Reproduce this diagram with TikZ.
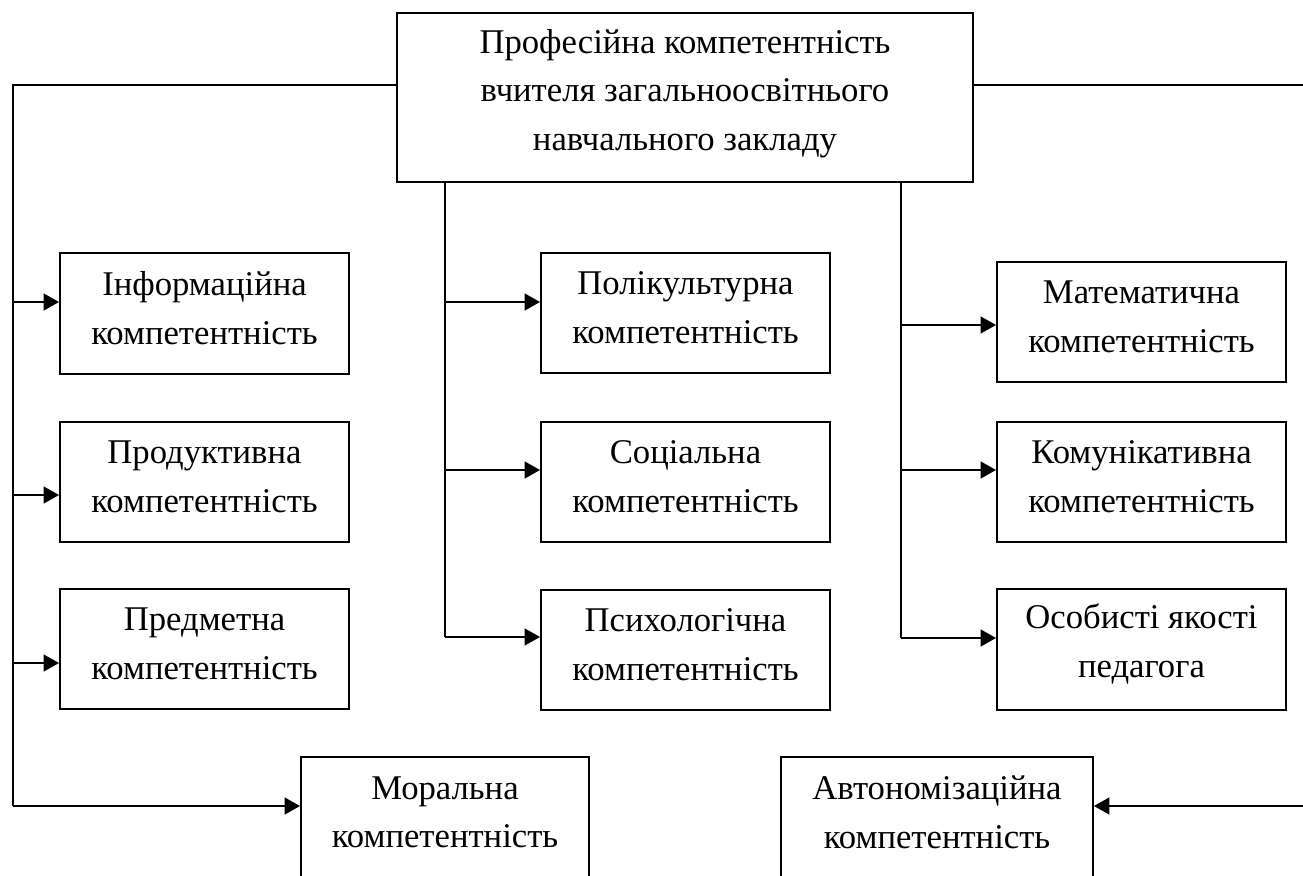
\documentclass[tikz,border=0pt]{standalone}
\usepackage{fontspec}
\setmainfont{Liberation Serif}
\usetikzlibrary{arrows.meta}
\begin{document}
\begin{tikzpicture}[x=0.75pt,y=-0.75pt,
  box/.style={draw=black,line width=1.4pt,rectangle,inner sep=0pt,minimum height=90.5pt,minimum width=216.75pt},
  lbl/.style={align=center,inner sep=0pt,font=\fontsize{26}{36.5}\selectfont},
  ln/.style={line width=1.5pt},
  arr/.style={line width=1.5pt,-{Triangle[length=11.5pt,width=12.5pt]}}]
\useasboundingbox (0,0) rectangle (1303,875);
\clip (0,0) rectangle (1303,875);
% top box
\node[box,minimum width=432pt,minimum height=126.75pt] (top) at (685,97.5) {};
\node[lbl] (topl) at ([yshift=3pt]top.center) {Професійна компетентність\\вчителя загальноосвітнього\\навчального закладу};
% left column
\node[box] (inf) at (204.5,313.5) {};
\node[lbl] (infl) at ([yshift=4pt]inf.center) {Інформаційна\\компетентність};
\node[box] (prod) at (204.5,482) {};
\node[lbl] (prodl) at ([yshift=4pt]prod.center) {Продуктивна\\компетентність};
\node[box] (pred) at (204.5,649) {};
\node[lbl] (predl) at ([yshift=4pt]pred.center) {Предметна\\компетентність};
% middle column
\node[box] (poli) at (685.5,313) {};
\node[lbl] (polil) at ([yshift=4pt]poli.center) {Полікультурна\\компетентність};
\node[box] (soc) at (685.5,482) {};
\node[lbl] (socl) at ([yshift=4pt]soc.center) {Соціальна\\компетентність};
\node[box] (psy) at (685.5,650) {};
\node[lbl] (psyl) at ([yshift=4pt]psy.center) {Психологічна\\компетентність};
% right column
\node[box] (mat) at (1141.5,322) {};
\node[lbl] (matl) at ([yshift=4pt]mat.center) {Математична\\компетентність};
\node[box] (kom) at (1141.5,482) {};
\node[lbl] (koml) at ([yshift=4pt]kom.center) {Комунікативна\\компетентність};
\node[box] (osob) at (1141.5,649.5) {};
\node[lbl] (osobl) at ([yshift=4pt]osob.center) {Особисті якості\\педагога};
% bottom
\node[box,minimum width=216pt] (mor) at (445,817.5) {};
\node[lbl] (morl) at ([yshift=4pt]mor.center) {Моральна\\компетентність};
\node[box,minimum width=234pt] (aut) at (937,817.5) {};
\node[lbl] (autl) at ([yshift=4pt]aut.center) {Автономізаційна\\компетентність};
% coordinates
\coordinate (tl) at (13,85);
\coordinate (tr) at (1303,85);
\coordinate (l1) at (13,302);
\coordinate (l2) at (13,495);
\coordinate (l3) at (13,663);
\coordinate (l4) at (13,806);
\coordinate (m0) at (445,182);
\coordinate (m1) at (445,302);
\coordinate (m2) at (445,470);
\coordinate (m3) at (445,637);
\coordinate (r0) at (901,182);
\coordinate (r1) at (901,325);
\coordinate (r2) at (901,470);
\coordinate (r3) at (901,638);
\coordinate (ar) at (1303,806);
% connectors
\draw[ln] (top.west |- tl) -- (tl) -- (l4);
\draw[ln] (top.east |- tr) -- (tr);
\draw[arr] (l1) -- (inf.west |- l1);
\draw[arr] (l2) -- (prod.west |- l2);
\draw[arr] (l3) -- (pred.west |- l3);
\draw[arr] (l4) -- (mor.west |- l4);
\draw[ln] (m0) -- (m3);
\draw[arr] (m1) -- (poli.west |- m1);
\draw[arr] (m2) -- (soc.west |- m2);
\draw[arr] (m3) -- (psy.west |- m3);
\draw[ln] (r0) -- (r3);
\draw[arr] (r1) -- (mat.west |- r1);
\draw[arr] (r2) -- (kom.west |- r2);
\draw[arr] (r3) -- (osob.west |- r3);
\draw[arr] (ar) -- (aut.east |- ar);
\end{tikzpicture}
\end{document}
